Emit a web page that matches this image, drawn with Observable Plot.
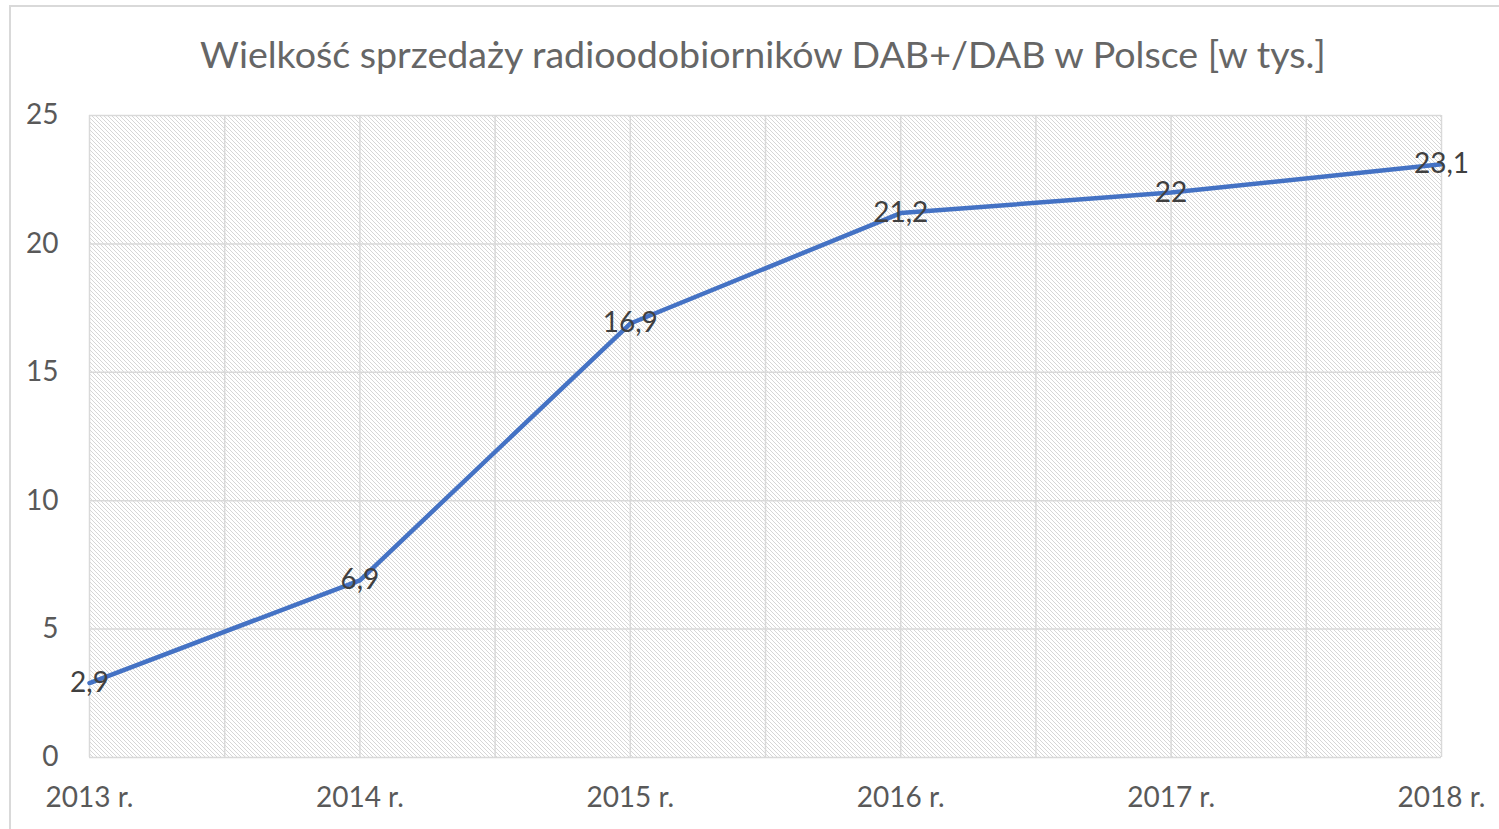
<!DOCTYPE html>
<html>
<head>
<meta charset="utf-8">
<script src="https://cdn.jsdelivr.net/npm/d3@7"></script>
<script src="https://cdn.jsdelivr.net/npm/@observablehq/plot@0.6"></script>
<style>
  html, body { margin: 0; padding: 0; background: #fff; overflow: hidden; }
  #wrap { position: relative; width: 1499px; height: 829px; }
  #frame { position: absolute; left: 9px; top: 5px; width: 1500px; height: 840px;
           border-top: 2px solid #d9d9d9; border-left: 2px solid #d9d9d9; box-sizing: border-box; }
  #title { position: absolute; left: 0; width: 1526px; top: 31px; text-align: center;
           font-family: Lato, "Open Sans", sans-serif; font-size: 37.6px; color: #666666; white-space: nowrap; }
  #chart { position: absolute; left: 0; top: 0; }
</style>
</head>
<body>
<div id="wrap">
  <div id="frame"></div>
  <div id="title">Wielkość sprzedaży radioodobiorników DAB+/DAB w Polsce [w tys.]</div>
  <div id="chart"></div>
</div>
<script>
const years = [2013, 2014, 2015, 2016, 2017, 2018];
const values = [2.9, 6.9, 16.9, 21.2, 22, 23.1];
const labels = ["2,9", "6,9", "16,9", "21,2", "22", "23,1"];
const yTicks = [0, 5, 10, 15, 20, 25];

const data = years.map((y, i) => ({year: y, value: values[i], label: labels[i]}));
const halfYears = years.slice(0, -1).map(y => y + 0.5);

const font = "Lato, 'Open Sans', sans-serif";

const plot = Plot.plot({
  width: 1499,
  height: 829,
  marginLeft: 89,
  marginRight: 58,
  marginTop: 115,
  marginBottom: 72,
  style: {fontFamily: font, background: "transparent", overflow: "visible"},
  x: {domain: [2013, 2018], label: null},
  y: {domain: [0, 25], label: null},
  marks: [
    Plot.rect([0], {x1: 2013, x2: 2018, y1: 0, y2: 25, fill: "url(#hatch)"}),
    Plot.ruleY(yTicks, {stroke: "#d9d9d9", strokeWidth: 1.5}),
    Plot.ruleX([...years, ...halfYears], {stroke: "#d9d9d9", strokeWidth: 1.5}),
    Plot.axisX({ticks: years, tickFormat: d => `${d} r.`, tickSize: 0, tickPadding: 30, fontSize: 28, fill: "#595959", label: null}),
    Plot.axisY({ticks: yTicks, tickSize: 0, tickPadding: 31, fontSize: 28, fill: "#595959", label: null}),
    Plot.line(data, {x: "year", y: "value", stroke: "#4472C4", strokeWidth: 4.5, strokeLinejoin: "round", strokeLinecap: "round"}),
    Plot.text(data, {x: "year", y: "value", text: "label", fontSize: 28, fill: "#404040", textAnchor: "middle", lineAnchor: "middle"})
  ]
});

const ns = "http://www.w3.org/2000/svg";
const defs = document.createElementNS(ns, "defs");
defs.innerHTML = `<pattern id="hatch" patternUnits="userSpaceOnUse" width="4" height="4">
  <rect width="4" height="4" fill="#ffffff"/>
  <path d="M-1,-1 L5,5 M-1,3 L1,5 M3,-1 L5,1" stroke="#d6d6d6" stroke-width="1"/>
</pattern>`;
plot.insertBefore(defs, plot.firstChild);
document.getElementById("chart").appendChild(plot);
</script>
</body>
</html>
